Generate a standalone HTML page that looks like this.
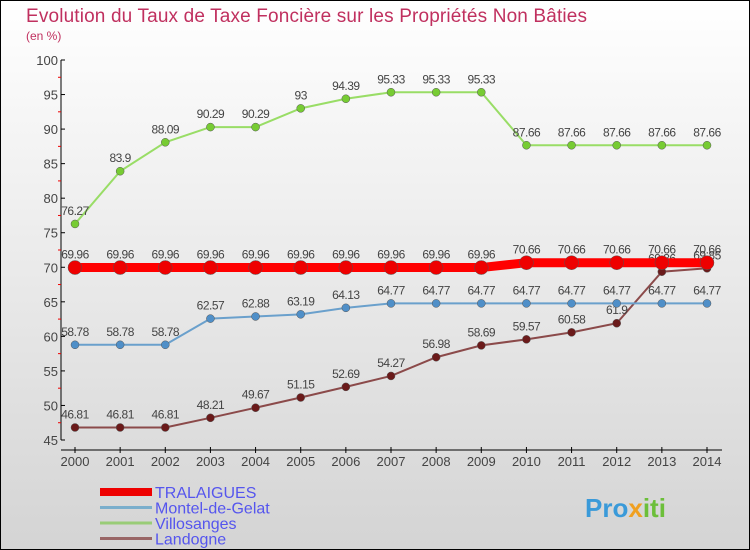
<!DOCTYPE html>
<html><head><meta charset="utf-8"><style>
body{margin:0}
svg{display:block;font-family:"Liberation Sans",sans-serif}
</style></head><body>
<svg id="c" width="750" height="550">
<defs><linearGradient id="bg" x1="0" y1="0" x2="0" y2="1"><stop offset="0" stop-color="#ffffff"/><stop offset="1" stop-color="#d4d4d4"/></linearGradient></defs>
<rect x="0.5" y="0.5" width="749" height="549" fill="url(#bg)" stroke="#000"/>
<text x="26" y="22" font-size="19" fill="#c0305f" textLength="561">Evolution du Taux de Taxe Foncière sur les Propriétés Non Bâties</text>
<text x="26" y="40" font-size="12" fill="#c0305f">(en %)</text>
<g id="axes"></g><g id="series"></g><g id="legend"></g>
<text x="585" y="517" font-size="26" font-weight="bold" fill="#3a9ad9">Pro<tspan fill="#f0a020">x</tspan><tspan fill="#6cbf3a">iti</tspan></text>
</svg>
<script>
const years=[2000,2001,2002,2003,2004,2005,2006,2007,2008,2009,2010,2011,2012,2013,2014];
const yTicks=[45,50,55,60,65,70,75,80,85,90,95,100];
const seriesNames=["TRALAIGUES","Montel-de-Gelat","Villosanges","Landogne"];
const tralaigues=[69.96,69.96,69.96,69.96,69.96,69.96,69.96,69.96,69.96,69.96,70.66,70.66,70.66,70.66,70.66];
const montel=[58.78,58.78,58.78,62.57,62.88,63.19,64.13,64.77,64.77,64.77,64.77,64.77,64.77,64.77,64.77];
const villosanges=[76.27,83.9,88.09,90.29,90.29,93,94.39,95.33,95.33,95.33,87.66,87.66,87.66,87.66,87.66];
const landogne=[46.81,46.81,46.81,48.21,49.67,51.15,52.69,54.27,56.98,58.69,59.57,60.58,61.9,69.36,69.85];
const NS="http://www.w3.org/2000/svg";
const X=i=>75+i*(707-75)/(years.length-1);
const Y=v=>440-(v-45)*(380/55);
function mk(tag,attrs,parent,txt){const e=document.createElementNS(NS,tag);for(const k in attrs)e.setAttribute(k,attrs[k]);if(txt!==undefined)e.textContent=txt;parent.appendChild(e);return e;}
const ax=document.getElementById('axes');
let yl=mk('line',{x1:61,y1:60,x2:61,y2:440,stroke:'#000'},ax);


yTicks.forEach(t=>{
 mk('line',{x1:61,y1:Y(t),x2:65,y2:Y(t),stroke:'#000'},ax);
 if(t<100) mk('line',{x1:58,y1:Y(t+2.5),x2:61,y2:Y(t+2.5),stroke:'#e00'},ax);
 const l=mk('text',{x:58,y:Y(t)+5,'font-size':13,fill:'#444','text-anchor':'end'},ax,String(t));
 
 
});
let xl=mk('line',{x1:61,y1:450,x2:722,y2:450,stroke:'#000'},ax);


years.forEach((y,i)=>{
 mk('line',{x1:X(i),y1:447,x2:X(i),y2:453,stroke:'#000'},ax);
 const l=mk('text',{x:X(i),y:466,'font-size':13,fill:'#444','text-anchor':'middle'},ax,String(y));
 
 
});
const sg=document.getElementById('series');
function draw(data,name,color,w,r,dot){
 const g=mk('g',{},sg);
 
 
 mk('polyline',{points:data.map((v,i)=>X(i)+','+Y(v)).join(' '),fill:'none',stroke:color,'stroke-width':w},g);
 data.forEach((v,i)=>{
  const c=mk('circle',{cx:X(i),cy:Y(v),r:r,fill:dot,stroke:'#555','stroke-width':0.5},g);
  
  
  mk('text',{x:X(i),y:Y(v)-9,'font-size':12,fill:'#444','text-anchor':'middle','letter-spacing':'-0.5'},g,String(v));
 });
}
draw(landogne,'landogne','#8b4a4a',2,4,'#6b1a1a');
draw(villosanges,'villosanges','#99dd66',2,4,'#77cc33');
draw(montel,'montel-de-gelat','#6aa0cc',2,4,'#4f8fc8');
draw(tralaigues,'tralaigues','#ff0000',9,7,'#ee0000');
const lg=document.getElementById('legend');
const cols=['#ee0000','#7aaecc','#99cc77','#996666'];
const ws=[8,3,3,3];
seriesNames.forEach((n,i)=>{
 const y=492+i*15.5;
 const g=mk('g',{},lg);
 
 
 mk('line',{x1:100,y1:y,x2:152,y2:y,stroke:cols[i],'stroke-width':ws[i]},g);
 mk('text',{x:155,y:y+6,'font-size':16,fill:'#5555ee'},g,n);
});
</script>
</body></html>
